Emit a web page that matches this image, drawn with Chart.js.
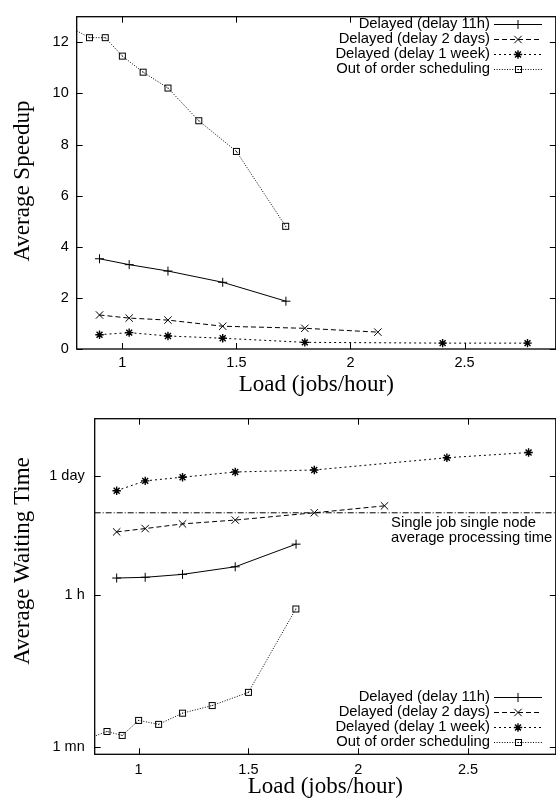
<!DOCTYPE html>
<html>
<head>
<meta charset="utf-8">
<script src="https://cdn.jsdelivr.net/npm/chart.js@4.4.1/dist/chart.umd.min.js"></script>
<style>
html, body { margin: 0; padding: 0; background: #fff; overflow: hidden; width: 556px; height: 802px; }
.box { position: absolute; left: 0; width: 562px; }
#topBox { top: 0; height: 400px; }
#botBox { top: 400px; height: 402px; }
</style>
</head>
<body>
<div class="box" id="topBox"><canvas id="speedupChart"></canvas></div>
<div class="box" id="botBox"><canvas id="waitChart"></canvas></div>
<script>
// series labels
const seriesNames = ['Delayed (delay 11h)', 'Delayed (delay 2 days)', 'Delayed (delay 1 week)', 'Out of order scheduling'];

// load (jobs/hour) of each run
const load11h = [0.9, 1.03, 1.2, 1.44, 1.717];
const load2d  = [0.9, 1.03, 1.2, 1.44, 1.80, 2.12];
const load1w  = [0.9, 1.03, 1.2, 1.44, 1.80, 2.404, 2.776];
const loadOoo = [0.75, 0.856, 0.925, 1.0, 1.091, 1.2, 1.335, 1.5, 1.716];

// average speedup
const speed11h = [3.53, 3.30, 3.05, 2.61, 1.87];
const speed2d  = [1.33, 1.21, 1.13, 0.89, 0.81, 0.66];
const speed1w  = [0.56, 0.64, 0.51, 0.42, 0.26, 0.23, 0.23];
const speedOoo = [12.69, 12.18, 12.18, 11.46, 10.83, 10.21, 8.93, 7.73, 4.80];

// average waiting time, seconds
const wait11h = [5610, 5720, 6190, 7580, 13900];
const wait2d  = [19300, 21100, 23900, 26500, 32200, 38800];
const wait1w  = [58200, 75700, 83500, 96000, 101300, 140600, 161800];
const waitOoo = [72.9, 92.1, 82.9, 124, 111.6, 150.5, 184.6, 262.7, 2451];

// single job single node average processing time (s)
const procTime = 32200;
const procLoads = [0.8, 2.9];

// axes
const loadTicks = [1, 1.5, 2, 2.5];
const loadTickLabels = ['1', '1.5', '2', '2.5'];
const speedTicks = [0, 2, 4, 6, 8, 10, 12];
const waitTicks = [60, 3600, 86400];
const waitTickLabels = ['1 mn', '1 h', '1 day'];

const SANS = '"Liberation Sans", Arial, sans-serif';
const SERIF = '"Liberation Serif", "Times New Roman", serif';

const pts = (xs, ys) => xs.map((x, i) => ({ x, y: ys[i] }));

// gnuplot-like square with a dot in the middle
const squareMark = document.createElement('canvas');
squareMark.width = 9; squareMark.height = 9;
(() => {
    const c = squareMark.getContext('2d');
    c.strokeStyle = '#000'; c.lineWidth = 1;
    c.strokeRect(1.5, 1.5, 6, 6);
    c.fillStyle = '#000'; c.fillRect(4, 4, 1, 1);
})();

const styles = [
    { borderDash: [], pointStyle: 'cross', pointRadius: 4.5 },
    { borderDash: [5, 3], pointStyle: 'crossRot', pointRadius: 5.2 },
    { borderDash: [2, 3], pointStyle: 'star', pointRadius: 4.2 },
    { borderDash: [1, 1.6], pointStyle: squareMark, pointRadius: 4.5 }
];

function makeSets(ys) {
    const xs = [load11h, load2d, load1w, loadOoo];
    return ys.map((y, i) => Object.assign({
        label: seriesNames[i],
        data: pts(xs[i], y),
        borderColor: '#000',
        borderWidth: 1,
        pointBorderColor: '#000',
        pointBackgroundColor: 'rgba(0,0,0,0)',
        pointBorderWidth: i === 2 ? 1.4 : 1,
        tension: 0
    }, styles[i]));
}

function drawMarker(ctx, style, r, x, y) {
    if (typeof style !== 'string') {
        ctx.drawImage(style, Math.round(x - style.width / 2), Math.round(y - style.height / 2));
        return;
    }
    ctx.beginPath();
    if (style === 'cross' || style === 'star') {
        ctx.moveTo(x - r, y); ctx.lineTo(x + r, y);
        ctx.moveTo(x, y - r); ctx.lineTo(x, y + r);
    }
    if (style === 'crossRot' || style === 'star') {
        const d = r * Math.SQRT1_2;
        ctx.moveTo(x - d, y - d); ctx.lineTo(x + d, y + d);
        ctx.moveTo(x + d, y - d); ctx.lineTo(x - d, y + d);
    }
    ctx.stroke();
}

// frame with inward mirrored ticks, plus legend and extra labels
const gnuplotLook = {
    id: 'gnuplotLook',
    afterDraw(chart, args, opts) {
        const { ctx, chartArea: a, scales: { x, y } } = chart;
        ctx.save();
        ctx.strokeStyle = '#000';
        ctx.setLineDash([]);
        ctx.lineWidth = 1.3;
        ctx.strokeRect(a.left, a.top, a.right - a.left, a.bottom - a.top);
        ctx.lineWidth = 1;
        ctx.beginPath();
        x.ticks.forEach(t => {
            const px = Math.round(x.getPixelForValue(t.value)) + 0.5;
            ctx.moveTo(px, a.bottom); ctx.lineTo(px, a.bottom - 6);
            ctx.moveTo(px, a.top); ctx.lineTo(px, a.top + 6);
        });
        y.ticks.forEach(t => {
            const py = Math.round(y.getPixelForValue(t.value)) + 0.5;
            ctx.moveTo(a.left, py); ctx.lineTo(a.left + 6, py);
            ctx.moveTo(a.right, py); ctx.lineTo(a.right - 6, py);
        });
        ctx.stroke();

        // y title
        ctx.fillStyle = '#000';
        ctx.font = '23px ' + SERIF;
        ctx.textAlign = 'center';
        ctx.textBaseline = 'middle';
        ctx.save();
        ctx.translate(opts.yTitle.x, opts.yTitle.y);
        ctx.rotate(-Math.PI / 2);
        ctx.fillText(opts.yTitle.text, 0, 0);
        ctx.restore();

        // legend
        const lg = opts.legend;
        ctx.font = '14.8px ' + SANS;
        ctx.textAlign = 'right';
        chart.data.datasets.forEach((ds, i) => {
            if (!ds.label) return;
            const ly = lg.y0 + i * lg.step;
            ctx.fillText(ds.label, lg.right, ly);
            const yy = Math.round(ly) + 0.5;
            ctx.lineWidth = 1;
            ctx.setLineDash(ds.borderDash);
            ctx.beginPath();
            ctx.moveTo(lg.right + 4, yy); ctx.lineTo(lg.right + 52, yy);
            ctx.stroke();
            ctx.setLineDash([]);
            ctx.lineWidth = ds.pointBorderWidth;
            drawMarker(ctx, ds.pointStyle, ds.pointRadius, lg.right + 28, yy);
        });

        // note under the processing time line
        if (opts.note) {
            ctx.textAlign = 'left';
            ctx.font = '14.8px ' + SANS;
            const nx = x.getPixelForValue(opts.note.x);
            const ny = y.getPixelForValue(opts.note.y);
            opts.note.lines.forEach((s, i) => ctx.fillText(s, nx, ny + 10 + i * 15));
        }
        ctx.restore();
    }
};

function xScale(height, labelPad, titlePad) {
    return {
        type: 'linear', min: 0.8, max: 2.9,
        afterBuildTicks: s => { s.ticks = loadTicks.map(v => ({ value: v })); },
        afterFit: s => { s.height = height; },
        grid: { display: false, drawTicks: false },
        border: { display: false },
        ticks: {
            color: '#000', padding: labelPad, maxRotation: 0, font: { family: SANS, size: 14.5 },
            callback: v => loadTickLabels[loadTicks.indexOf(v)] ?? ''
        },
        title: { display: true, text: 'Load (jobs/hour)', color: '#000', padding: { top: 0, bottom: titlePad },
                 font: { family: SERIF, size: 23, lineHeight: 1 } }
    };
}

new Chart(document.getElementById('speedupChart'), {
    type: 'line',
    data: { datasets: makeSets([speed11h, speed2d, speed1w, speedOoo]) },
    options: {
        responsive: true, maintainAspectRatio: false, animation: false,
        layout: { padding: { top: 9, right: 3, left: 0, bottom: 0 } },
        plugins: {
            legend: { display: false }, tooltip: { enabled: false },
            gnuplotLook: {
                yTitle: { text: 'Average Speedup', x: 23, y: 181 },
                legend: { right: 490, y0: 23.5, step: 15 }
            }
        },
        scales: {
            x: xScale(51, 5.5, 3.5),
            y: {
                type: 'linear', min: 0, max: 13,
                afterBuildTicks: s => { s.ticks = speedTicks.map(v => ({ value: v })); },
                afterFit: s => { s.width = 76.7; },
                grid: { display: false, drawTicks: false },
                border: { display: false },
                ticks: { color: '#000', padding: 8, font: { family: SANS, size: 14.5 } }
            }
        }
    },
    plugins: [gnuplotLook]
});

const waitSets = makeSets([wait11h, wait2d, wait1w, waitOoo]);
waitSets.push({
    label: '',
    data: pts(procLoads, procLoads.map(() => procTime)),
    borderColor: '#000', borderWidth: 1, borderDash: [6, 2, 1, 2],
    pointRadius: 0, tension: 0
});

new Chart(document.getElementById('waitChart'), {
    type: 'line',
    data: { datasets: waitSets },
    options: {
        responsive: true, maintainAspectRatio: false, animation: false,
        layout: { padding: { top: 14.7, right: 3, left: 0, bottom: 0 } },
        plugins: {
            legend: { display: false }, tooltip: { enabled: false },
            gnuplotLook: {
                yTitle: { text: 'Average Waiting Time', x: 23, y: 161 },
                legend: { right: 490, y0: 296.7, step: 15 },
                note: { x: 2.15, y: procTime, lines: ['Single job single node', 'average processing time'] }
            }
        },
        scales: {
            x: xScale(47.7, 7, 3.8),
            y: {
                type: 'logarithmic', min: 50, max: 400000,
                afterBuildTicks: s => { s.ticks = waitTicks.map(v => ({ value: v })); },
                afterFit: s => { s.width = 94.7; },
                grid: { display: false, drawTicks: false },
                border: { display: false },
                ticks: {
                    color: '#000', padding: 10, font: { family: SANS, size: 14.5 },
                    callback: v => waitTickLabels[waitTicks.indexOf(v)] ?? ''
                }
            }
        }
    },
    plugins: [gnuplotLook]
});
</script>
</body>
</html>
